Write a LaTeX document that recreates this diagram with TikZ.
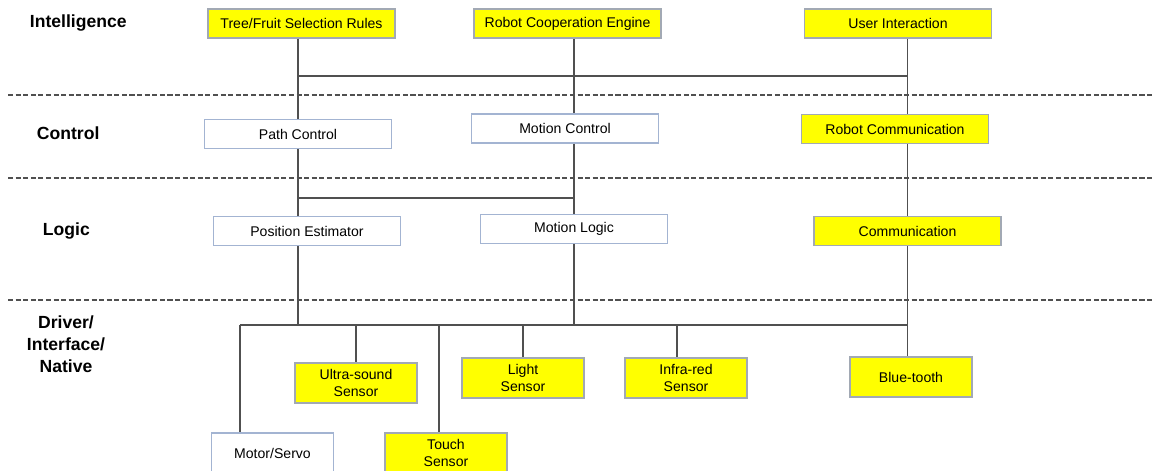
\documentclass[tikz,border=0pt]{standalone}
\usepackage{fontspec}
\setsansfont{Liberation Sans}
\usepackage{tikz}
\usetikzlibrary{positioning}
\definecolor{linkgray}{HTML}{505050}
\definecolor{paleblue}{HTML}{A3B4D2}
\definecolor{hotyellow}{HTML}{FFFF00}
\definecolor{hotedge}{HTML}{A2A9B4}

\begin{document}
\begin{tikzpicture}[
    x=0.025cm, y=-0.025cm,
    every node/.style={font=\sffamily\fontsize{10}{12}\selectfont},
    lanesep/.style={draw=linkgray, dash pattern=on 3.6pt off 1.8pt, line width=0.9pt},
    lanelabel/.style={font=\sffamily\bfseries\fontsize{12.5}{15.5}\selectfont, align=center},
    box/.style={
        rectangle,
        draw=paleblue,
        fill=white,
        line width=1.1pt,
        inner sep=0pt,
        minimum width=4.675cm,
        minimum height=0.725cm
    },
    hotbox/.style={box, draw=hotedge, fill=hotyellow},
    smallbox/.style={box, align=center, minimum width=3.05cm, minimum height=1cm},
    sensorbox/.style={smallbox, draw=hotedge, fill=hotyellow},
    link/.style={draw=linkgray, line width=0.9pt}
]

\useasboundingbox (0,0) rectangle (1155,470);
\clip (0,0) rectangle (1155,470);

% LANES
\draw[lanesep] (8,95) -- (1152,95);
\draw[lanesep] (8,178) -- (1152,178);
\draw[lanesep] (8,300) -- (1152,300);

% LANE LABELS
\node[lanelabel, anchor=west] (lintel) at (25,23) {Intelligence};
\node[lanelabel, anchor=west] (lctrl) at (32,133) {Control};
\node[lanelabel, anchor=west] (llogic) at (38,231) {Logic};
\node[lanelabel] (ldrv) at (66,344) {Driver/\\Interface/\\Native};

% NODES
\node[hotbox] (rules) at (301.5,23.5) {Tree/Fruit Selection Rules};
\node[hotbox] (coop) at (567.5,23.5) {Robot Cooperation Engine};
\node[hotbox] (user) at (898,23.5) {User Interaction};

\node[box] (pathc) at (298,134) {Path Control};
\node[box] (motionc) at (565,128.5) {Motion Control};
\node[hotbox] (robcomm) at (895,129) {Robot Communication};

\node[box] (posest) at (307,231) {Position Estimator};
\node[box] (motionl) at (574,229) {Motion Logic};
\node[hotbox] (comm) at (907.5,231) {Communication};

\node[sensorbox] (ultra) at (356,383) {Ultra-sound\\Sensor};
\node[sensorbox] (light) at (523,378) {Light\\Sensor};
\node[sensorbox] (infra) at (686,378) {Infra-red\\Sensor};
\node[sensorbox] (blue) at (911,377) {Blue-tooth};
\node[smallbox] (motor) at (272.5,453) {Motor/Servo};
\node[sensorbox] (touch) at (446,453) {Touch\\Sensor};

% JUNCTIONS
\coordinate (jtop) at (298,76);
\coordinate (jmid) at (298,198);
\coordinate (jbus) at (240,325);
\coordinate (jultra) at (356,325);
\coordinate (jtouch) at (439,325);
\coordinate (jlight) at (523,325);
\coordinate (jinfra) at (677,325);

% LINKS
\draw[link] (pathc.north |- rules.south) -- (pathc.north);
\draw[link] (coop.south -| motionl.north) -- (motionc.north -| motionl.north);
\draw[link] (user.south -| comm.north) -- (robcomm.north -| comm.north);
\draw[link] (jtop) -- (jtop -| comm.north);

\draw[link] (pathc.south) -- (pathc.south |- posest.north);
\draw[link] (motionc.south -| motionl.north) -- (motionl.north);
\draw[link] (jmid) -- (jmid -| motionl.north);
\draw[link] (robcomm.south -| comm.north) -- (comm.north);

\draw[link] (posest.south -| jmid) -- (jbus -| jmid);
\draw[link] (motionl.south) -- (jbus -| motionl.south);
\draw[link] (comm.south) -- (blue.north -| comm.south);
\draw[link] (jbus) -- (jbus -| comm.south);

\draw[link] (jbus) -- (jbus |- motor.north);
\draw[link] (jultra) -- (ultra.north);
\draw[link] (jtouch) -- (jtouch |- touch.north);
\draw[link] (jlight) -- (light.north);
\draw[link] (jinfra) -- (jinfra |- infra.north);

\end{tikzpicture}
\end{document}
